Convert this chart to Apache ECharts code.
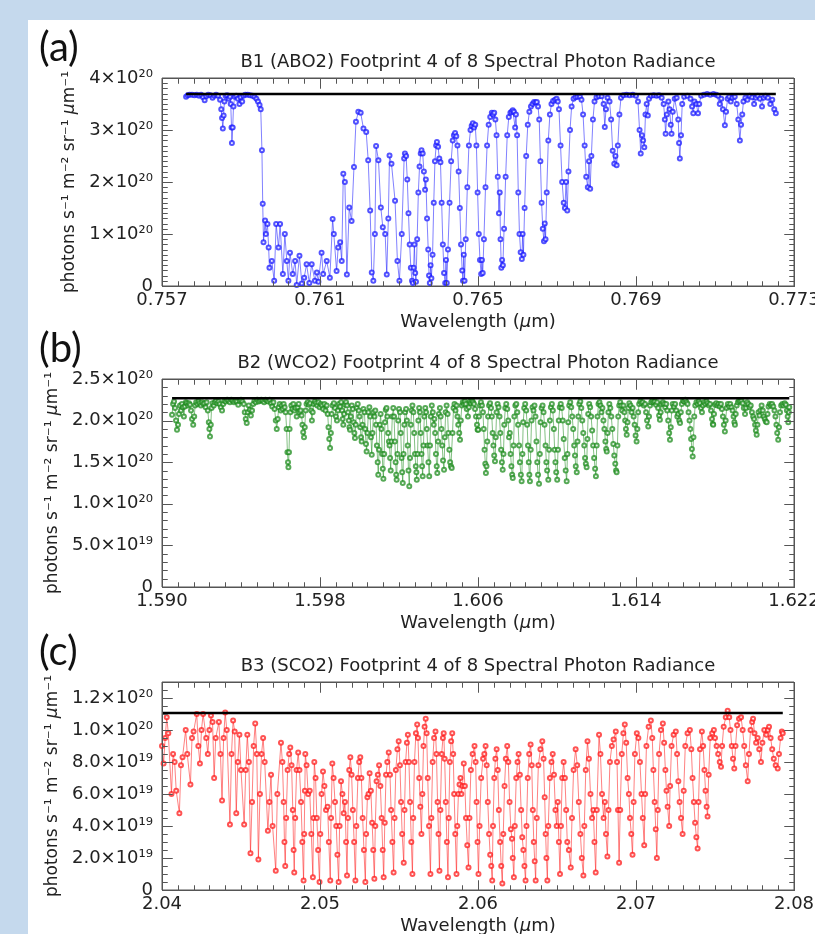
<!DOCTYPE html>
<html>
<head>
<meta charset="utf-8">
<script src="https://cdn.jsdelivr.net/npm/echarts@6/dist/echarts.min.js"></script>
<style>
html, body { margin: 0; padding: 0; }
#frame { position: relative; width: 815px; height: 934px; background: #c5d9ed; overflow: hidden; }
#sheet { position: absolute; left: 28px; top: 20px; width: 787px; height: 914px; background: #fff; }
#chart { position: absolute; left: 0; top: 0; width: 815px; height: 934px; }
</style>
</head>
<body>
<div id="frame"><div id="sheet"></div><div id="chart"></div></div>
<script>
// 패널 제목 / 라벨
const titles = [
    'B1 (ABO2) Footprint 4 of 8 Spectral Photon Radiance',
    'B2 (WCO2) Footprint 4 of 8 Spectral Photon Radiance',
    'B3 (SCO2) Footprint 4 of 8 Spectral Photon Radiance'
];
const letters = ['(a)', '(b)', '(c)'];

// 축 범위 [min, max, major step, minor step]
const xRanges = [[0.757, 0.773, 0.004, 0.0004], [1.590, 1.622, 0.008, 0.0008], [2.04, 2.08, 0.01, 0.001]];
const yRanges = [[0, 4, 1, 0.1], [0, 2.5, 0.5, 0.1], [0, 1.3, 0.2, 0.05]];

// continuum level (x 1e20)
const continuum = [3.69, 2.27, 1.106];

// B1 O2 A-band radiance (x 1e20)
const bandA = [
[0.75761,3.64],[0.75765,3.67],[0.75770,3.68],[0.75776,3.68],[0.75782,3.67],[0.75788,3.68],[0.75794,3.66],[0.75799,3.68],[0.75804,3.63],[0.75808,3.57],[0.75812,3.65],[0.75817,3.68],[0.75823,3.67],[0.75828,3.62],[0.75832,3.66],[0.75837,3.68],[0.75842,3.66],[0.75847,3.58],[0.75850,3.40],[0.75852,3.23],[0.75854,3.03],[0.75856,3.28],[0.75858,3.55],[0.75861,3.66],[0.75865,3.67],[0.75869,3.60],[0.75872,3.64],[0.75874,3.50],[0.75876,3.05],[0.75877,2.75],[0.75879,3.05],[0.75881,3.45],[0.75884,3.64],[0.75888,3.66],[0.75892,3.60],[0.75896,3.50],[0.75899,3.63],[0.75903,3.55],[0.75906,3.66],[0.75911,3.68],[0.75917,3.68],[0.75923,3.67],[0.75929,3.66],[0.75934,3.64],[0.75939,3.60],[0.75943,3.55],[0.75947,3.48],
[0.75950,3.40],[0.75953,2.61],[0.75955,1.58],[0.75957,0.84],[0.75961,1.26],[0.75963,1.00],[0.75967,1.19],[0.75970,0.74],[0.75972,0.35],[0.75978,0.48],[0.75984,0.10],[0.75989,1.19],[0.75995,0.74],[0.75999,1.19],[0.76006,0.23],[0.76011,1.00],[0.76016,0.48],[0.76020,0.10],[0.76024,0.64],[0.76031,0.23],[0.76037,0.48],[0.76041,0.02],[0.76048,0.58],[0.76054,0.05],[0.76060,0.16],[0.76066,0.42],[0.76073,0.06],[0.76079,0.42],[0.76087,0.10],[0.76092,0.26],[0.76096,0.08],[0.76104,0.64],[0.76108,0.23],[0.76117,0.48],[0.76125,0.16],[0.76132,1.29],[0.76135,1.00],[0.76142,0.29],[0.76146,0.74],[0.76151,0.84],[0.76155,0.48],[0.76159,2.16],[0.76163,2.00],[0.76168,0.22],[0.76174,1.51],[0.76180,1.25],[0.76186,2.29],[0.76191,3.16],[0.76197,3.35],[0.76203,3.33],[0.76210,3.03],[0.76217,2.96],[0.76222,2.42],[0.76227,1.45],[0.76231,0.26],[0.76235,0.10],[0.76239,1.00],[0.76242,2.69],[0.76248,2.42],[0.76254,1.51],[0.76259,1.13],[0.76265,1.00],[0.76269,0.22],[0.76273,1.30],[0.76276,2.51],[0.76281,2.35],[0.76290,1.64],[0.76296,0.48],[0.76301,0.10],[0.76307,1.00],[0.76313,2.45],[0.76315,2.55],[0.76318,2.50],[0.76321,2.05],[0.76324,1.40],[0.76327,0.80],[0.76330,0.35],[0.76333,0.10],[0.76335,0.06],[0.76337,0.35],[0.76339,0.80],[0.76341,0.25],[0.76343,0.08],[0.76346,0.90],[0.76349,1.80],[0.76352,2.30],[0.76355,2.55],[0.76357,2.61],[0.76360,2.55],[0.76363,2.20],[0.76366,1.85],[0.76368,2.05],[0.76371,1.30],[0.76374,0.70],[0.76376,0.20],[0.76378,0.06],[0.76380,0.40],[0.76382,0.15],[0.76385,0.60],[0.76388,1.60],[0.76391,2.40],[0.76394,2.70],
[0.76396,2.77],[0.76399,2.68],[0.76402,2.45],[0.76405,2.38],[0.76408,1.60],[0.76411,0.80],[0.76414,0.25],[0.76417,0.06],[0.76419,0.50],[0.76421,0.06],[0.76424,0.70],[0.76428,1.60],[0.76432,2.40],[0.76436,2.80],[0.76439,2.90],[0.76442,2.94],
[0.76445,2.88],[0.76448,2.70],[0.76451,2.20],[0.76454,1.50],[0.76457,0.80],[0.76460,0.30],[0.76462,0.10],[0.76464,0.60],[0.76466,0.10],[0.76469,0.90],[0.76473,1.90],[0.76477,2.70],[0.76481,3.00],[0.76484,3.08],[0.76487,3.13],
[0.76490,3.05],[0.76493,3.10],[0.76496,2.70],[0.76499,1.80],[0.76502,1.00],[0.76505,0.50],[0.76508,0.23],[0.76510,0.50],[0.76512,0.25],[0.76515,0.90],[0.76519,1.90],[0.76523,2.70],[0.76527,3.10],[0.76531,3.25],[0.76535,3.33],[0.76538,3.30],[0.76541,3.33],
[0.76544,3.20],[0.76547,2.90],[0.76550,2.10],[0.76553,1.40],[0.76555,1.80],[0.76557,0.90],[0.76559,0.35],[0.76561,0.50],[0.76563,0.40],[0.76566,1.10],[0.76570,2.10],[0.76574,2.90],[0.76578,3.25],[0.76582,3.33],[0.76585,3.35],[0.76588,3.38],
[0.76591,3.35],[0.76594,3.05],[0.76596,3.30],[0.76599,2.90],[0.76602,1.80],[0.76605,1.00],[0.76608,0.65],[0.76611,0.52],[0.76613,1.00],[0.76615,0.60],[0.76618,1.50],[0.76622,2.50],[0.76626,3.10],[0.76630,3.35],[0.76634,3.45],[0.76638,3.50],[0.76642,3.54],[0.76646,3.53],[0.76649,3.54],
[0.76652,3.45],[0.76655,3.20],[0.76658,2.40],[0.76661,1.60],[0.76664,1.10],[0.76667,0.86],[0.76669,1.20],[0.76671,0.90],[0.76674,1.80],[0.76678,2.80],[0.76682,3.30],[0.76686,3.50],[0.76690,3.56],[0.76695,3.58],[0.76699,3.60],
[0.76702,3.55],[0.76705,3.40],[0.76709,2.70],[0.76713,2.00],[0.76717,1.60],[0.76720,1.50],[0.76723,2.00],[0.76726,1.45],[0.76729,2.20],[0.76733,3.00],[0.76737,3.45],[0.76742,3.60],[0.76747,3.63],[0.76752,3.64],[0.76758,3.64],
[0.76762,3.58],[0.76766,3.30],[0.76770,2.70],[0.76774,2.10],[0.76778,1.90],[0.76781,2.40],[0.76784,1.87],[0.76787,2.50],[0.76791,3.20],[0.76795,3.55],[0.76800,3.63],[0.76806,3.65],[0.76813,3.65],
[0.76818,3.50],[0.76821,3.06],[0.76824,3.40],[0.76828,3.62],[0.76833,3.55],[0.76837,3.20],[0.76841,2.60],[0.76845,2.35],[0.76848,2.50],[0.76851,2.32],[0.76854,2.70],[0.76858,3.30],[0.76862,3.62],[0.76868,3.67],[0.76876,3.68],[0.76884,3.67],[0.76892,3.68],[0.76900,3.66],[0.76905,3.55],
[0.76909,3.00],[0.76912,2.55],[0.76915,2.90],[0.76918,2.80],[0.76921,2.67],[0.76924,3.30],[0.76927,3.50],[0.76930,3.28],[0.76933,3.60],[0.76938,3.66],[0.76945,3.67],[0.76952,3.66],[0.76958,3.67],
[0.76965,3.62],[0.76970,3.50],[0.76973,3.20],[0.76975,2.93],[0.76978,3.30],[0.76982,3.55],[0.76985,3.40],[0.76988,3.10],[0.76990,2.93],[0.76993,3.35],[0.76998,3.60],[0.77003,3.62],[0.77007,3.20],[0.77009,2.75],[0.77011,2.45],[0.77014,2.90],[0.77017,3.50],[0.77022,3.64],[0.77030,3.66],
[0.77038,3.60],[0.77042,3.45],[0.77045,3.32],[0.77048,3.55],[0.77053,3.50],[0.77057,3.32],[0.77060,3.50],[0.77065,3.66],[0.77072,3.68],[0.77080,3.69],[0.77088,3.68],[0.77096,3.69],[0.77103,3.68],[0.77108,3.66],
[0.77112,3.50],[0.77116,3.60],[0.77120,3.40],[0.77125,3.09],[0.77128,3.35],[0.77132,3.60],[0.77136,3.64],[0.77140,3.55],[0.77144,3.62],
[0.77150,3.64],[0.77155,3.50],[0.77159,3.20],[0.77163,2.80],[0.77166,3.10],[0.77169,3.30],[0.77172,3.55],[0.77177,3.62],[0.77182,3.58],[0.77188,3.66],[0.77194,3.63],[0.77199,3.50],[0.77203,3.62],[0.77208,3.66],[0.77214,3.60],[0.77219,3.45],[0.77223,3.62],[0.77228,3.66],[0.77234,3.62],[0.77240,3.50],[0.77245,3.58],[0.77250,3.40],[0.77254,3.32]
];

// B2 weak CO2 band radiance (x 1e20)
const bandB = [
[1.59051,2.07],[1.59056,2.20],[1.59061,2.23],[1.59066,2.15],[1.59071,2.00],[1.59076,1.89],[1.59081,1.95],[1.59086,2.08],[1.59091,2.18],[1.59096,2.12],[1.59101,2.20],[1.59106,2.16],[1.59111,2.05],[1.59116,2.17],[1.59121,2.22],[1.59126,2.21],[1.59132,2.18],[1.59137,2.21],[1.59142,2.19],[1.59147,2.12],[1.59152,2.02],[1.59158,1.95],[1.59163,2.05],[1.59168,2.18],[1.59173,2.22],[1.59179,2.20],[1.59185,2.23],[1.59191,2.21],[1.59197,2.18],[1.59203,2.22],[1.59209,2.20],[1.59215,2.21],[1.59221,2.16],[1.59226,2.22],[1.59232,2.12],[1.59237,1.98],[1.59240,1.90],[1.59243,1.81],[1.59247,1.95],[1.59251,2.15],[1.59256,2.21],[1.59262,2.18],[1.59268,2.22],[1.59274,2.24],[1.59280,2.21],[1.59286,2.23],[1.59292,2.20],[1.59298,2.16],[1.59304,2.12],[1.59310,2.20],[1.59316,2.24],[1.59323,2.23],[1.59330,2.25],[1.59337,2.24],[1.59344,2.22],[1.59351,2.25],[1.59358,2.24],[1.59365,2.22],[1.59372,2.24],[1.59379,2.23],[1.59386,2.19],[1.59393,2.24],[1.59400,2.25],[1.59407,2.23],[1.59414,2.20],[1.59419,2.10],[1.59424,2.02],[1.59429,1.97],[1.59434,2.10],[1.59439,2.18],[1.59445,2.13],[1.59450,2.06],[1.59456,2.12],[1.59462,2.20],[1.59468,2.24],[1.59475,2.22],[1.59482,2.25],[1.59489,2.23],[1.59496,2.24],[1.59503,2.25],[1.59510,2.24],[1.59517,2.22],[1.59524,2.25],[1.59531,2.24],[1.59538,2.23],[1.59545,2.25],[1.59552,2.21],[1.59558,2.17],[1.59564,2.22],[1.59570,2.14],[1.59576,2.00],[1.59581,1.90],[1.59586,2.02],[1.59591,2.16],[1.59596,2.20],[1.59601,2.12],[1.59606,2.18],[1.59611,2.14],[1.59616,2.20],[1.59621,2.16],[1.59626,2.10],[1.59631,1.90],[1.59635,1.62],[1.59638,1.50],[1.59640,1.44],[1.59643,1.62],[1.59646,1.90],[1.59650,2.10],[1.59655,2.18],[1.59660,2.14],[1.59665,2.20],[1.59670,2.12],[1.59676,2.15],[1.59682,2.05],[1.59687,2.16],[1.59692,2.20],[1.59697,2.10],[1.59702,2.12],[1.59707,2.06],[1.59711,1.95],[1.59715,1.86],[1.59719,1.80],[1.59723,1.92],[1.59727,2.12],[1.59732,2.20],[1.59738,2.22],[1.59744,2.19],[1.59750,2.21],[1.59755,2.12],[1.59759,2.00],[1.59763,2.10],[1.59768,2.20],[1.59774,2.23],[1.59780,2.21],[1.59786,2.18],[1.59792,2.22],[1.59798,2.16],[1.59804,2.20],[1.59810,2.18],[1.59816,2.14],[1.59822,2.20],[1.59828,2.12],[1.59834,2.18],[1.59839,2.08],[1.59843,1.92],[1.59847,1.78],[1.59851,1.67],[1.59855,1.85],[1.59859,2.08],[1.59864,2.18],[1.59870,2.21],[1.59876,2.15],[1.59881,2.05],[1.59886,2.00],[1.59891,2.12],[1.59896,2.20],[1.59902,2.17],[1.59907,2.22],[1.59912,2.12],[1.59915,2.02],[1.59918,1.95],[1.59922,2.08],[1.59927,2.19],[1.59932,2.22],[1.59937,2.18],[1.59942,2.10],[1.59946,2.00],[1.59949,1.92],[1.59952,1.89],[1.59956,2.05],[1.59961,2.18],[1.59966,2.14],[1.59970,1.98],[1.59974,1.85],[1.59977,1.79],[1.59981,1.95],[1.59986,2.15],[1.59991,2.20],[1.59996,2.12],[1.60000,2.05],[1.60004,1.92],[1.60008,1.80],[1.60011,1.75],[1.60015,1.95],[1.60020,2.14],[1.60025,2.10],[1.60029,1.90],[1.60033,1.72],[1.60036,1.63],[1.60040,1.85],[1.60045,2.10],[1.60050,2.16],[1.60054,2.05],[1.60058,1.80],[1.60062,1.59],[1.60066,1.85],[1.60071,2.10],[1.60076,2.05],[1.60080,2.12],[1.60084,1.95],[1.60088,1.70],[1.60092,1.50],[1.60095,1.35],[1.60099,1.65],[1.60103,1.95],[1.60107,2.08],[1.60111,1.90],[1.60115,1.60],[1.60118,1.42],[1.60121,1.30],[1.60125,1.60],[1.60129,1.98],[1.60133,2.13],[1.60137,2.15],[1.60141,2.05],[1.60145,1.85],[1.60149,1.75],[1.60152,1.70],[1.60155,1.55],[1.60158,1.40],[1.60162,1.75],[1.60166,2.05],[1.60171,2.15],[1.60175,2.05],[1.60179,1.75],[1.60183,1.50],[1.60186,1.35],[1.60188,1.29],[1.60192,1.60],[1.60196,2.00],[1.60200,2.14],[1.60205,2.10],[1.60209,1.85],[1.60213,1.55],[1.60216,1.38],[1.60219,1.25],[1.60223,1.60],[1.60227,1.95],[1.60231,2.10],[1.60236,2.14],[1.60240,2.00],[1.60244,1.70],[1.60248,1.40],[1.60252,1.21],[1.60256,1.55],[1.60260,1.95],[1.60264,2.12],[1.60268,2.18],[1.60273,2.10],[1.60277,1.85],[1.60281,1.60],[1.60285,1.45],[1.60288,1.38],[1.60290,1.29],[1.60294,1.60],[1.60298,2.00],[1.60302,2.15],[1.60306,2.10],[1.60310,1.85],[1.60314,1.60],[1.60317,1.45],[1.60320,1.33],[1.60324,1.70],[1.60328,2.05],[1.60333,2.15],[1.60337,2.10],[1.60341,1.90],[1.60345,1.70],[1.60349,1.50],[1.60353,1.33],[1.60357,1.70],[1.60361,2.05],[1.60366,2.18],[1.60371,2.10],[1.60376,1.95],[1.60379,2.02],[1.60383,1.85],[1.60387,1.60],[1.60391,1.45],[1.60394,1.37],[1.60398,1.75],[1.60402,2.08],[1.60407,2.15],[1.60411,2.05],[1.60415,1.90],[1.60419,1.70],[1.60423,1.52],[1.60428,1.41],[1.60432,1.80],[1.60436,2.10],[1.60441,2.18],[1.60446,2.08],[1.60450,1.85],[1.60455,1.65],[1.60459,1.50],[1.60463,1.45],[1.60467,1.43],[1.60471,1.85],[1.60476,2.15],[1.60481,2.20],[1.60486,2.12],[1.60491,2.18],[1.60496,2.05],[1.60500,1.95],[1.60505,1.85],[1.60509,1.77],[1.60513,2.00],[1.60518,2.18],[1.60523,2.22],[1.60528,2.20],[1.60533,2.23],[1.60538,2.20],[1.60543,2.14],[1.60549,2.05],[1.60554,2.16],[1.60559,2.23],[1.60564,2.21],[1.60570,2.24],[1.60575,2.22],[1.60580,2.20],[1.60585,2.14],[1.60590,2.05],[1.60595,1.95],[1.60598,1.89],[1.60601,1.89],[1.60605,2.05],[1.60610,2.18],[1.60615,2.22],[1.60620,2.18],[1.60625,2.10],[1.60629,1.90],[1.60633,1.65],[1.60637,1.48],[1.60640,1.37],[1.60643,1.45],[1.60647,1.75],[1.60651,2.05],[1.60656,2.18],[1.60661,2.21],[1.60666,2.15],[1.60670,2.05],[1.60674,1.85],[1.60678,1.70],[1.60682,1.58],[1.60686,1.51],[1.60690,1.80],[1.60694,2.10],[1.60699,2.20],[1.60704,2.16],[1.60709,2.05],[1.60713,1.85],[1.60717,1.65],[1.60721,1.50],[1.60725,1.41],[1.60729,1.60],[1.60733,1.95],[1.60738,2.15],[1.60743,2.20],[1.60748,2.14],[1.60753,2.00],[1.60757,1.80],[1.60761,1.85],[1.60765,1.60],[1.60769,1.45],[1.60773,1.35],[1.60776,1.31],[1.60780,1.70],[1.60784,2.05],[1.60789,2.18],[1.60794,2.20],[1.60799,2.10],[1.60803,1.95],[1.60808,1.70],[1.60812,1.50],[1.60817,1.35],[1.60821,1.27],[1.60825,1.60],[1.60829,1.98],[1.60834,2.15],[1.60839,2.20],[1.60844,2.12],[1.60849,1.95],[1.60853,1.70],[1.60857,1.50],[1.60860,1.35],[1.60863,1.27],[1.60867,1.65],[1.60871,2.00],[1.60876,2.16],[1.60881,2.12],[1.60886,2.18],[1.60891,2.05],[1.60896,1.75],[1.60900,1.50],[1.60904,1.35],[1.60909,1.24],[1.60913,1.60],[1.60917,1.98],[1.60922,2.15],[1.60927,2.18],[1.60932,2.10],[1.60937,1.95],[1.60942,1.70],[1.60946,1.50],[1.60950,1.40],[1.60956,1.29],[1.60960,1.65],[1.60964,2.00],[1.60969,2.16],[1.60974,2.20],[1.60979,2.12],[1.60984,1.90],[1.60988,1.65],[1.60992,1.50],[1.60996,1.38],[1.61001,1.29],[1.61005,1.65],[1.61009,2.00],[1.61014,2.16],[1.61019,2.20],[1.61024,2.15],[1.61029,2.00],[1.61034,1.78],[1.61039,1.55],[1.61044,1.40],[1.61049,1.27],[1.61053,1.60],[1.61057,1.98],[1.61062,2.18],[1.61067,2.22],[1.61072,2.16],[1.61077,2.05],[1.61082,1.90],[1.61087,1.70],[1.61091,1.58],[1.61095,1.45],[1.61100,1.38],[1.61104,1.75],[1.61108,2.05],[1.61113,2.20],[1.61118,2.23],[1.61123,2.15],[1.61128,2.00],[1.61133,1.85],[1.61138,1.70],[1.61142,1.55],[1.61146,1.48],[1.61150,1.44],[1.61154,1.78],[1.61158,2.08],[1.61163,2.20],[1.61168,2.16],[1.61173,2.05],[1.61178,1.88],[1.61183,1.70],[1.61188,1.55],[1.61193,1.42],[1.61197,1.33],[1.61201,1.70],[1.61205,2.05],[1.61210,2.20],[1.61215,2.22],[1.61220,2.18],[1.61225,2.10],[1.61230,2.15],[1.61235,2.00],[1.61240,1.90],[1.61245,1.75],[1.61249,1.66],[1.61252,1.63],[1.61256,1.85],[1.61260,2.10],[1.61265,2.20],[1.61270,2.15],[1.61275,2.05],[1.61280,1.90],[1.61285,1.72],[1.61290,1.58],[1.61295,1.48],[1.61299,1.40],[1.61302,1.38],[1.61306,1.70],[1.61310,2.05],[1.61315,2.18],[1.61320,2.22],[1.61325,2.18],[1.61330,2.12],[1.61336,2.18],[1.61341,2.10],[1.61345,2.00],[1.61349,1.90],[1.61353,1.83],[1.61357,1.98],[1.61361,2.15],[1.61366,2.21],[1.61372,2.18],[1.61378,2.10],[1.61383,2.15],[1.61388,2.05],[1.61393,1.95],[1.61398,1.82],[1.61403,1.75],[1.61407,1.90],[1.61411,2.10],[1.61416,2.20],[1.61422,2.23],[1.61428,2.21],[1.61434,2.22],[1.61440,2.18],[1.61446,2.20],[1.61451,2.10],[1.61456,2.00],[1.61462,1.93],[1.61466,2.05],[1.61471,2.18],[1.61477,2.22],[1.61483,2.24],[1.61489,2.22],[1.61495,2.23],[1.61501,2.19],[1.61507,2.22],[1.61512,2.15],[1.61517,2.06],[1.61521,2.01],[1.61525,2.10],[1.61530,2.20],[1.61536,2.22],[1.61542,2.20],[1.61548,2.16],[1.61553,2.20],[1.61558,2.12],[1.61563,2.00],[1.61568,1.85],[1.61572,1.77],[1.61576,1.92],[1.61581,2.12],[1.61586,2.20],[1.61592,2.17],[1.61598,2.20],[1.61604,2.12],[1.61609,2.05],[1.61614,2.08],[1.61619,2.00],[1.61623,1.97],[1.61627,2.10],[1.61632,2.20],[1.61638,2.24],[1.61644,2.23],[1.61650,2.25],[1.61656,2.22],[1.61661,2.20],[1.61666,2.10],[1.61671,2.00],[1.61675,1.90],[1.61679,1.78],[1.61683,1.66],[1.61687,1.57],[1.61691,1.80],[1.61695,2.05],[1.61700,2.18],[1.61706,2.22],[1.61712,2.20],[1.61718,2.23],[1.61724,2.21],[1.61729,2.15],[1.61734,2.10],[1.61739,2.18],[1.61745,2.22],[1.61751,2.20],[1.61757,2.23],[1.61763,2.21],[1.61769,2.18],[1.61775,2.20],[1.61780,2.12],[1.61785,2.02],[1.61789,1.96],[1.61791,1.95],[1.61795,2.08],[1.61800,2.19],[1.61806,2.21],[1.61812,2.18],[1.61818,2.20],[1.61824,2.17],[1.61830,2.20],[1.61835,2.14],[1.61840,2.05],[1.61845,1.95],[1.61850,1.87],[1.61854,2.00],[1.61859,2.15],[1.61865,2.20],[1.61871,2.17],[1.61877,2.20],[1.61883,2.16],[1.61889,2.12],[1.61894,2.05],[1.61898,1.98],[1.61901,1.95],[1.61905,2.08],[1.61910,2.18],[1.61916,2.22],[1.61922,2.24],[1.61928,2.23],[1.61934,2.24],[1.61940,2.21],[1.61946,2.15],[1.61952,2.08],[1.61957,2.15],[1.61963,2.22],[1.61969,2.20],[1.61975,2.16],[1.61981,2.18],[1.61987,2.10],[1.61993,2.05],[1.61998,2.02],[1.62003,1.95],[1.62007,1.88],[1.62011,1.83],[1.62015,1.95],[1.62020,2.10],[1.62025,2.06],[1.62030,2.12],[1.62036,2.18],[1.62042,2.12],[1.62047,2.05],[1.62052,2.02],[1.62057,1.99],[1.62062,1.98],[1.62066,2.08],[1.62071,2.17],[1.62077,2.20],[1.62083,2.18],[1.62089,2.20],[1.62095,2.17],[1.62101,2.12],[1.62106,2.05],[1.62111,1.95],[1.62115,1.85],[1.62120,1.77],[1.62124,1.92],[1.62129,2.10],[1.62135,2.18],[1.62141,2.20],[1.62147,2.18],[1.62153,2.21],[1.62159,2.19],[1.62164,2.12],[1.62168,2.05],[1.62171,1.98],[1.62174,2.10],[1.62176,2.16]
];

// B3 strong CO2 band radiance (x 1e20)
const bandC = [
[2.0400,0.90],[2.0401,0.79],[2.0402,0.95],[2.0403,1.08],[2.0404,0.98],[2.0406,0.60],[2.0407,0.85],[2.0408,0.80],[2.0409,0.62],[2.0411,0.48],[2.0412,0.78],[2.0413,0.83],[2.0415,1.00],[2.0416,0.85],[2.0418,0.66],[2.0419,0.95],[2.0420,0.99],[2.0422,1.10],[2.0423,0.90],[2.0424,0.79],[2.0425,1.00],[2.0426,1.10],[2.0428,0.95],[2.0429,0.85],[2.0430,1.00],[2.0431,1.09],[2.0432,1.05],[2.0433,0.70],[2.0434,0.95],[2.0436,1.05],[2.0437,0.85],[2.0438,0.56],[2.0439,0.95],[2.0440,1.11],[2.0441,1.00],[2.0443,0.41],[2.0444,0.85],[2.0445,1.06],[2.0446,0.99],[2.0447,0.48],[2.0448,0.80],[2.0449,0.97],
[2.0450,0.75],[2.0452,0.41],[2.0453,0.75],[2.0454,0.97],[2.0455,0.80],[2.0456,0.23],[2.0457,0.55],[2.0458,0.90],[2.0459,1.04],[2.0460,0.85],[2.0461,0.19],[2.0462,0.60],[2.0463,0.85],[2.0464,0.95],[2.0465,0.80],[2.0467,0.37],[2.0468,0.55],[2.0469,0.72],[2.0470,0.40],[2.0472,0.12],[2.0473,0.60],
[2.04753,0.92],[2.04762,0.80],[2.04770,0.55],[2.04775,0.30],[2.04780,0.15],[2.04786,0.45],[2.04795,0.75],[2.04805,0.85],[2.04812,0.89],[2.04820,0.78],[2.04828,0.50],[2.04833,0.25],[2.04837,0.11],[2.04843,0.45],[2.04852,0.75],[2.04862,0.86],[2.04870,0.75],[2.04880,0.55],[2.04888,0.30],[2.04896,0.06],[2.04900,0.35],[2.04904,0.62],[2.04907,0.85],[2.04915,0.78],[2.04925,0.60],[2.04935,0.62],[2.04945,0.35],[2.04955,0.08],[2.04959,0.45],[2.04964,0.80],[2.04972,0.70],[2.04980,0.45],[2.04988,0.25],[2.04997,0.05],[2.05002,0.35],[2.05010,0.60],[2.05019,0.74],[2.05028,0.65],[2.05038,0.50],[2.05048,0.52],[2.05056,0.30],[2.05065,0.06],[2.05070,0.45],[2.05078,0.79],[2.05086,0.70],[2.05095,0.55],[2.05103,0.40],[2.05110,0.22],[2.05118,0.05],[2.05124,0.40],[2.05133,0.68],[2.05142,0.60],[2.05150,0.48],[2.05158,0.55],[2.05165,0.30],[2.05171,0.09],[2.05177,0.45],[2.05185,0.75],[2.05192,0.83],[2.05200,0.72],[2.05208,0.50],[2.05216,0.30],[2.05224,0.06],[2.05230,0.40],[2.05240,0.70],[2.05248,0.80],[2.05255,0.83],[2.05262,0.70],[2.05270,0.45],[2.05278,0.25],[2.05287,0.05],[2.05292,0.35],[2.05300,0.58],[2.05307,0.60],[2.05314,0.73],[2.05322,0.62],[2.05330,0.42],[2.05337,0.25],[2.05344,0.07],[2.05350,0.40],[2.05358,0.68],[2.05366,0.72],[2.05374,0.78],[2.05382,0.65],[2.05390,0.45],[2.05397,0.25],[2.05403,0.08],[2.05410,0.42],[2.05418,0.72],[2.05426,0.80],[2.05435,0.86],[2.05443,0.72],[2.05450,0.50],[2.05458,0.30],[2.05466,0.11],[2.05472,0.45],[2.05480,0.75],[2.05490,0.88],[2.05498,0.93],[2.05506,0.78],[2.05513,0.55],[2.05520,0.35],[2.05530,0.17],[2.05535,0.50],[2.05542,0.80],[2.05550,0.92],[2.05556,0.97],[2.05563,0.80],[2.05570,0.55],[2.05578,0.30],[2.05585,0.10],[2.05590,0.45],[2.05598,0.80],[2.05607,0.98],[2.05615,1.035],[2.05620,0.95],[2.05628,0.70],[2.05635,0.52],[2.05642,0.35],[2.05648,0.60],[2.05655,0.90],[2.05662,1.02],[2.05669,1.07],[2.05675,0.98],[2.05682,0.70],[2.05690,0.40],[2.05699,0.10],[2.05705,0.45],[2.05713,0.80],[2.05722,0.95],[2.05731,0.99],[2.05737,0.85],[2.05744,0.55],[2.05750,0.35],[2.05756,0.12],[2.05762,0.50],[2.05770,0.85],[2.05778,0.95],[2.05783,0.98],[2.05789,0.82],[2.05796,0.55],[2.05803,0.30],[2.05810,0.08],[2.05815,0.45],[2.05822,0.80],[2.05830,0.93],[2.05837,0.98],[2.05843,0.85],[2.05849,0.60],[2.05856,0.35],[2.05864,0.10],[2.05869,0.40],[2.05876,0.60],[2.05883,0.66],[2.05889,0.70],[2.05895,0.60],[2.05902,0.65],[2.05910,0.79],[2.05917,0.65],[2.05924,0.45],[2.05932,0.28],[2.05940,0.14],[2.05946,0.45],[2.05955,0.75],[2.05966,0.85],[2.05978,0.90],[2.05985,0.80],[2.05991,0.55],[2.05997,0.30],[2.06003,0.10],[2.06010,0.40],[2.06020,0.70],[2.06032,0.82],[2.06040,0.85],[2.06048,0.90],[2.06055,0.78],[2.06062,0.55],[2.06070,0.35],[2.06077,0.22],[2.06084,0.15],[2.06090,0.06],[2.06095,0.40],[2.06103,0.70],[2.06110,0.82],[2.06118,0.88],[2.06125,0.75],[2.06132,0.50],[2.06140,0.30],[2.06147,0.15],[2.06154,0.04],[2.06160,0.35],[2.06168,0.65],[2.06176,0.82],[2.06185,0.90],[2.06192,0.80],[2.06200,0.55],[2.06208,0.38],[2.06215,0.32],[2.06220,0.20],[2.06227,0.08],[2.06233,0.40],[2.06242,0.70],[2.06250,0.80],[2.06257,0.85],[2.06265,0.72],[2.06273,0.50],[2.06280,0.33],[2.06287,0.25],[2.06294,0.15],[2.06301,0.06],[2.06307,0.40],[2.06315,0.70],[2.06324,0.85],[2.06333,0.91],[2.06340,0.78],[2.06347,0.50],[2.06353,0.30],[2.06359,0.18],[2.06365,0.06],[2.06372,0.45],[2.06382,0.78],[2.06395,0.88],[2.06407,0.93],[2.06415,0.82],[2.06422,0.58],[2.06428,0.35],[2.06433,0.20],[2.06439,0.06],[2.06445,0.40],[2.06455,0.70],[2.06465,0.80],[2.06473,0.85],[2.06481,0.72],[2.06490,0.50],[2.06498,0.40],[2.06505,0.55],[2.06512,0.30],[2.06519,0.10],[2.06525,0.40],[2.06533,0.70],[2.06542,0.80],[2.06550,0.70],[2.06558,0.50],[2.06565,0.30],[2.06575,0.25],[2.06587,0.14],[2.06595,0.45],[2.06605,0.75],[2.06618,0.88],[2.06628,0.78],[2.06638,0.55],[2.06648,0.35],[2.06657,0.20],[2.06667,0.09],[2.06673,0.40],[2.06682,0.75],[2.06693,0.93],[2.06702,0.82],[2.06712,0.60],[2.06722,0.45],[2.06730,0.50],[2.06737,0.30],[2.06745,0.11],[2.06752,0.50],[2.06766,0.97],[2.06775,0.85],[2.06785,0.60],[2.06795,0.45],[2.06803,0.55],[2.06810,0.35],[2.06819,0.21],[2.06826,0.50],[2.06835,0.80],[2.06847,0.90],[2.06858,0.94],[2.06872,0.99],[2.06880,0.80],[2.06886,0.50],[2.06893,0.17],[2.06900,0.50],[2.06910,0.85],[2.06920,0.98],[2.06929,1.035],[2.06938,0.92],[2.06947,0.70],[2.06955,0.60],[2.06962,0.45],[2.06970,0.35],[2.06978,0.22],
[2.06985,0.55],[2.06993,0.85],[2.07005,0.98],[2.07015,0.95],[2.07025,0.80],[2.07035,0.60],[2.07043,0.45],[2.07052,0.28],[2.07058,0.60],[2.07066,0.90],[2.07080,1.02],[2.07094,1.06],[2.07103,0.95],[2.07110,0.75],[2.07118,0.55],[2.07125,0.38],[2.07132,0.20],[2.07138,0.50],[2.07146,0.85],[2.07158,1.00],[2.07170,1.04],[2.07178,0.92],[2.07186,0.75],[2.07193,0.62],[2.07200,0.52],[2.07210,0.40],[2.07216,0.65],[2.07225,0.90],[2.07238,0.97],[2.07252,0.99],[2.07260,0.85],[2.07268,0.68],[2.07276,0.55],[2.07285,0.45],[2.07295,0.35],[2.07302,0.62],[2.07312,0.90],[2.07326,0.98],[2.07341,1.00],[2.07350,0.88],[2.07358,0.70],[2.07366,0.55],[2.07374,0.42],[2.07382,0.33],[2.07390,0.26],[2.07396,0.55],[2.07405,0.88],[2.07417,0.99],[2.07425,0.90],[2.07433,0.75],[2.07440,0.62],[2.07447,0.52],[2.07453,0.46],[2.07460,0.72],[2.07470,0.95],[2.07482,0.98],[2.07493,1.00],[2.07500,0.95],[2.07510,0.90],[2.07520,0.85],[2.07530,0.80],[2.07538,0.77],[2.07545,0.90],[2.07555,1.02],[2.07568,1.08],[2.07580,1.12],[2.07590,1.08],[2.07598,1.00],[2.07606,0.90],[2.07614,0.82],[2.07622,0.76],[2.07630,0.90],[2.07640,1.03],[2.07652,1.07],[2.07665,1.08],[2.07675,1.00],[2.07685,0.90],[2.07695,0.78],[2.07707,0.68],[2.07715,0.85],[2.07725,1.00],[2.07735,1.05],[2.07741,1.07],[2.07750,0.98],[2.07760,0.92],[2.07770,0.95],[2.07780,0.88],[2.07791,0.80],[2.07800,0.92],[2.07812,1.00],[2.07825,0.97],[2.07834,1.00],[2.07842,1.02],[2.07852,0.95],[2.07862,0.88],[2.07872,0.82],[2.07884,0.78],[2.07897,0.76],[2.07905,0.85],[2.07915,0.95],[2.07923,0.99],[2.07929,0.98]
];

const bands = [bandA, bandB, bandC];
const colors = ['#1a1aff', '#1e8c1e', '#ff1a1a'];
const xDigits = [3, 3, 2];

// 그리드 배치
const GRID_LEFT = 162, GRID_W = 632, GRID_H = 208;
const gridTops = [78, 379, 682];
const FONT = '"DejaVu Sans", sans-serif';
const AXIS_COLOR = '#555';

// 눈금 위치 (min 부터 step 간격)
function steps(min, max, step) {
    let out = [];
    let n = Math.floor((max - min) / step + 1e-6);
    for (let k = 0; k <= n; k++) out.push(+(min + k * step).toFixed(6));
    return out;
}

function yLabel(v, step) {
    if (v === 0) return '0';
    if (step === 1) return Math.round(v) + '×10²⁰';
    if (v < 1 - 1e-9) return (v * 10).toFixed(1) + '×10¹⁹';
    return v.toFixed(1) + '×10²⁰';
}

function isMajor(v, min, step) {
    let k = (v - min) / step;
    return Math.abs(k - Math.round(k)) < 1e-6;
}

// 한 변의 눈금을 빗살 모양 polyline 하나로 (변 위를 따라가며 안쪽으로 튀어나옴)
// dir: 눈금이 향하는 방향 벡터
function comb(points, dir) {
    let pts = [];
    points.forEach(([x, y, len]) => {
        pts.push([x, y], [x + dir[0] * len, y + dir[1] * len], [x, y]);
    });
    return { type: 'polyline', silent: true, z: 100,
        shape: { points: pts }, style: { stroke: AXIS_COLOR, lineWidth: 1, fill: null } };
}

// IDL 스타일 안쪽 눈금 (네 변 모두), 축 범위로부터 픽셀 계산
function buildTicks(i) {
    let xr = xRanges[i], yr = yRanges[i];
    let top = gridTops[i], bottom = gridTops[i] + GRID_H, left = GRID_LEFT, right = GRID_LEFT + GRID_W;
    let xs = steps(xr[0], xr[1], xr[3]).map(v => [
        Math.round(left + (v - xr[0]) / (xr[1] - xr[0]) * GRID_W) + 0.5, isMajor(v, xr[0], xr[2]) ? 10 : 5]);
    let ys = steps(yr[0], yr[1], yr[3]).map(v => [
        Math.round(bottom - (v - yr[0]) / (yr[1] - yr[0]) * GRID_H) + 0.5, isMajor(v, yr[0], yr[2]) ? 10 : 5]);
    return [
        comb(xs.map(([x, l]) => [x, bottom + 0.5, l]), [0, -1]),
        comb(xs.map(([x, l]) => [x, top + 0.5, l]), [0, 1]),
        comb(ys.map(([y, l]) => [left + 0.5, y, l]), [1, 0]),
        comb(ys.map(([y, l]) => [right + 0.5, y, l]), [-1, 0])
    ];
}

let grids = [], xAxes = [], yAxes = [], series = [], graphics = [];

for (let i = 0; i < 3; i++) {
    let xr = xRanges[i], yr = yRanges[i];

    grids.push({ left: GRID_LEFT, top: gridTops[i], width: GRID_W, height: GRID_H, containLabel: false,
        outerBoundsMode: 'none', show: true, borderColor: AXIS_COLOR, borderWidth: 1, backgroundColor: 'transparent' });

    xAxes.push({
        gridIndex: i, type: 'value', position: 'bottom', min: xr[0], max: xr[1],
        axisLine: { show: false, onZero: false }, axisTick: { show: false }, splitLine: { show: false },
        axisLabel: { show: true, customValues: steps(xr[0], xr[1], xr[2]), fontSize: 18, color: '#222',
            fontFamily: FONT, margin: 5, formatter: (v) => v.toFixed(xDigits[i]) },
        name: 'Wavelength ({i|μ}m)', nameLocation: 'middle', nameGap: 27,
        nameTextStyle: { fontSize: 18, color: '#222', fontFamily: FONT,
            rich: { i: { fontSize: 18, fontStyle: 'italic', color: '#222', fontFamily: FONT } } }
    });
    yAxes.push({
        gridIndex: i, type: 'value', position: 'left', min: yr[0], max: yr[1],
        axisLine: { show: false, onZero: false }, axisTick: { show: false }, splitLine: { show: false },
        axisLabel: { show: true, customValues: steps(yr[0], yr[1], yr[2]), fontSize: 18, color: '#222',
            fontFamily: FONT, margin: 9, formatter: (v) => yLabel(v, yr[2]) },
        name: 'photons s⁻¹ m⁻² sr⁻¹ {i|μ}m⁻¹', nameLocation: 'middle', nameRotate: 90, nameGap: 84,
        nameTextStyle: { fontSize: 17, color: '#222', fontFamily: FONT,
            rich: { i: { fontSize: 17, fontStyle: 'italic', color: '#222', fontFamily: FONT } } }
    });

    let data = bands[i];
    series.push({
        type: 'line', xAxisIndex: i, yAxisIndex: i, data: data,
        symbol: 'emptyCircle', symbolSize: 4,
        lineStyle: { color: colors[i], width: 1, opacity: 0.55 },
        itemStyle: { color: colors[i], borderWidth: 1, opacity: 0.75 },
        z: 2
    });
    // 검은 continuum 선
    series.push({
        type: 'line', xAxisIndex: i, yAxisIndex: i,
        data: [[data[0][0], continuum[i]], [data[data.length - 1][0], continuum[i]]],
        symbol: 'none', lineStyle: { color: '#000', width: 2.5 }, z: 3
    });

    graphics.push({
        type: 'text', x: 478, y: gridTops[i] - 16,
        style: { text: titles[i], font: '18px ' + FONT, fill: '#222', align: 'center', verticalAlign: 'middle',
            textAlign: 'center', textVerticalAlign: 'middle' }
    });
    graphics.push({
        type: 'text', x: 39, y: gridTops[i] - 30,
        style: { text: letters[i], font: '40px Lato, "Open Sans", sans-serif', fill: '#111', align: 'left', verticalAlign: 'middle',
            textAlign: 'left', textVerticalAlign: 'middle' }
    });
    buildTicks(i).forEach(el => graphics.push(el));
}

let chart = echarts.init(document.getElementById('chart'), null, { renderer: 'canvas' });
chart.setOption({
    animation: false,
    grid: grids,
    xAxis: xAxes,
    yAxis: yAxes,
    series: series,
    graphic: { elements: graphics }
});
</script>
</body>
</html>
